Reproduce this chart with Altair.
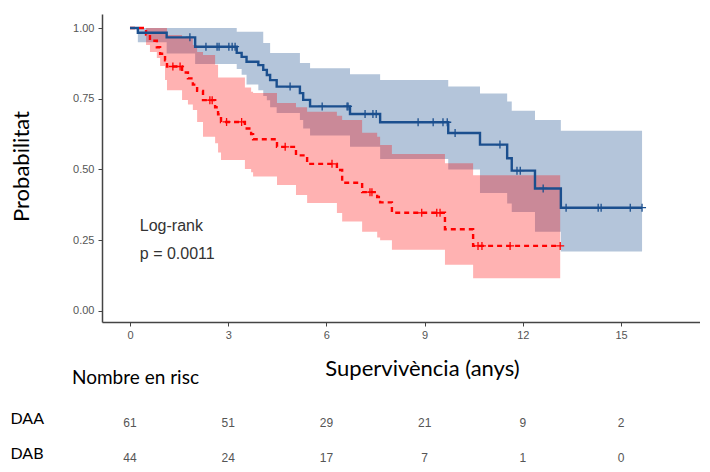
import altair as alt
import pandas as pd
import numpy as np

# ---- DAA (blue) Kaplan-Meier steps ----
b_t = [0, 0.24, 1.12, 1.99, 3.26, 3.41, 3.56, 3.92, 4.07, 4.18, 4.28, 4.48, 5.19, 5.29, 5.50,
       6.72, 7.64, 9.72, 10.69, 11.52, 11.66, 12.37, 13.16]
b_s = [1, .983, .967, .934, .912, .898, .881, .869, .852, .834, .816, .793, .770, .746, .723,
       .696, .667, .629, .588, .540, .496, .433, .365]
b_lo = [1, .95, .91, .873, .855, .835, .80, .78, .76, .745, .72, .70, .675, .645, .62,
        .58, .537, .50, .417, .38, .35, .28, .21]
b_hi = [1, 1, 1, 1, .987, .987, .987, .987, .947, .947, .912, .912, .876, .876, .858,
        .837, .816, .793, .769, .740, .708, .675, .637]
b_end = 15.64
b_cens = [1.83, 2.32, 2.66, 2.72, 3.02, 3.12, 3.21, 4.89, 5.87, 6.63, 6.66, 7.18, 7.42, 7.52,
          8.80, 9.26, 9.56, 9.69, 9.93, 11.30, 11.82, 11.92, 12.62, 13.32, 14.30, 14.39,
          15.28, 15.64]

# ---- DAB (red) Kaplan-Meier steps ----
r_t = [0, 0.49, 0.61, 0.82, 0.92, 1.07, 1.13, 1.59, 1.77, 1.92, 2.05, 2.23, 2.60, 2.69, 2.78,
       3.51, 3.70, 3.76, 4.49, 5.07, 5.41, 6.32, 6.48, 7.09, 7.55, 7.64, 8.00, 9.62, 10.48]
r_s = [1, .977, .955, .932, .909, .886, .864, .843, .822, .80, .778, .745, .72, .695, .668,
       .645, .625, .607, .58, .55, .52, .498, .453, .42, .403, .384, .347, .289, .23]
r_lo = [1, .94, .915, .894, .866, .816, .78, .746, .73, .71, .668, .616, .593, .56, .534,
        .502, .49, .475, .445, .41, .382, .346, .316, .28, .26, .25, .216, .163, .116]
r_hi = [1, 1, 1, 1, 1, 1, .975, .965, .965, .94, .915, .905, .87, .825, .825,
        .79, .775, .77, .735, .72, .704, .69, .675, .63, .616, .587, .555, .522, .48]
r_end = 13.14
r_cens = [1.31, 1.53, 2.44, 2.51, 2.95, 3.41, 4.74, 6.17, 7.33, 7.39, 8.91, 9.37, 9.47,
          10.63, 10.75, 11.61, 13.14]

# ---- number at risk ----
risk_times = [0, 3, 6, 9, 12, 15]
risk_daa = [61, 51, 29, 21, 9, 2]
risk_dab = [44, 24, 17, 7, 1, 0]

x_ticks = [0, 3, 6, 9, 12, 15]
y_ticks = [0, 0.25, 0.5, 0.75, 1.0]

BLUE = "#1B4F8E"
RED = "#FF0000"
NARROW = "Liberation Sans Narrow, Liberation Sans, Arial"
TITLEF = "Lato"


def steps(t, s, lo, hi, end):
    df = pd.DataFrame({"t": t, "s": s, "lo": lo, "hi": hi})
    last = pd.DataFrame({"t": [end], "s": [s[-1]], "lo": [lo[-1]], "hi": [hi[-1]]})
    return pd.concat([df, last], ignore_index=True)


def cens(times, t, s):
    idx = np.searchsorted(np.array(t), np.array(times), side="right") - 1
    return pd.DataFrame({"t": times, "s": np.array(s)[idx]})


db = steps(b_t, b_s, b_lo, b_hi, b_end)
dr = steps(r_t, r_s, r_lo, r_hi, r_end)
cb = cens(b_cens, b_t, b_s)
cr = cens(r_cens, r_t, r_s)

xs = alt.Scale(domain=[-0.855, 17.41], nice=False, zero=False)
ys = alt.Scale(domain=[-0.0389, 1.0495], nice=False, zero=False)

xax = alt.Axis(values=x_ticks, grid=False, title="Supervivència (anys)",
               titleFont=TITLEF, titleFontSize=22, titleFontWeight="normal", titleColor="black",
               titleX=320, titleY=46, titleBaseline="middle", titleAlign="center",
               labelFont=NARROW, labelFontSize=11, labelColor="#555555", labelPadding=3,
               tickColor="#444444", tickSize=4, domainColor="#444444", domainWidth=1.5)
yax = alt.Axis(values=y_ticks, format=".2f", grid=False, title="Probabilitat",
               titleFont=TITLEF, titleFontSize=22, titleFontWeight="normal", titleColor="black",
               titleX=-81, titleY=152, titleBaseline="middle", titleAlign="center", titleAngle=270,
               labelFont=NARROW, labelFontSize=11, labelColor="#555555", labelPadding=4,
               tickColor="#444444", tickSize=4, domainColor="#444444", domainWidth=1.5)

X = alt.X("t:Q", scale=xs, axis=xax, title="Supervivència (anys)")
Y = alt.Y("s:Q", scale=ys, axis=yax, title="Probabilitat")
YLO = alt.Y("lo:Q", scale=ys, axis=yax, title="Probabilitat")

band_b = alt.Chart(db).mark_area(interpolate="step-after", color=BLUE, opacity=0.33).encode(
    x=X, y=YLO, y2="hi:Q")
band_r = alt.Chart(dr).mark_area(interpolate="step-after", color=RED, opacity=0.3).encode(
    x=X, y=YLO, y2="hi:Q")
line_r = alt.Chart(dr).mark_line(interpolate="step-after", color=RED, strokeWidth=2.4,
                                 strokeDash=[5, 4]).encode(x=X, y=Y)
line_b = alt.Chart(db).mark_line(interpolate="step-after", color=BLUE, strokeWidth=2.4).encode(
    x=X, y=Y)
PLUS = "M-1,0L1,0M0,-1L0,1"
cens_b = alt.Chart(cb).mark_point(shape=PLUS, size=64, filled=False, color=BLUE,
                                  strokeWidth=1.3, opacity=1).encode(x=X, y=Y)
cens_r = alt.Chart(cr).mark_point(shape=PLUS, size=64, filled=False, color=RED,
                                  strokeWidth=1.3, opacity=1).encode(x=X, y=Y)

ann = pd.DataFrame({"t": [0.3, 0.3], "s": [0.30, 0.20], "label": ["Log-rank", "p = 0.0011"]})
txt = alt.Chart(ann).mark_text(align="left", baseline="middle", font="Liberation Sans",
                               fontSize=16, color="#333333").encode(x=X, y=Y, text="label:N")

main = alt.layer(band_b, band_r, line_r, line_b, cens_r, cens_b, txt).properties(
    width=598, height=308)

tbl = pd.DataFrame({
    "t": risk_times + risk_times,
    "row": [0] * len(risk_times) + [1] * len(risk_times),
    "n": risk_daa + risk_dab,
})
tax = alt.Axis(values=[0, 1], labelExpr="datum.value == 0 ? 'DAA' : 'DAB'", ticks=False,
               domain=False, tickSize=0, labelAlign="left", labelPadding=92, labelFont=TITLEF,
               labelFontSize=16, labelColor="black", labelOffset=-4, labelBaseline="middle",
               grid=False, title=None)
table = alt.Chart(tbl).mark_text(font=NARROW, fontSize=12, color="#555555").encode(
    x=alt.X("t:Q", scale=xs, axis=None),
    y=alt.Y("row:Q", scale=alt.Scale(domain=[-0.6857, 1.1429], reverse=True, nice=False,
                                     zero=False), axis=tax),
    text="n:Q",
).properties(width=598, height=64,
             title=alt.TitleParams("Nombre en risc", anchor="start", frame="group", dx=-30,
                                   font=TITLEF, fontSize=19, fontWeight="normal",
                                   color="black", offset=11))

chart = alt.vconcat(main, table, spacing=-10).properties(
    padding={"left": 2, "top": 6, "right": 0, "bottom": 0},
    background="white",
).configure_view(strokeWidth=0, stroke="transparent")

chart.save("out.html", embed_options={"renderer": "svg", "actions": False})
